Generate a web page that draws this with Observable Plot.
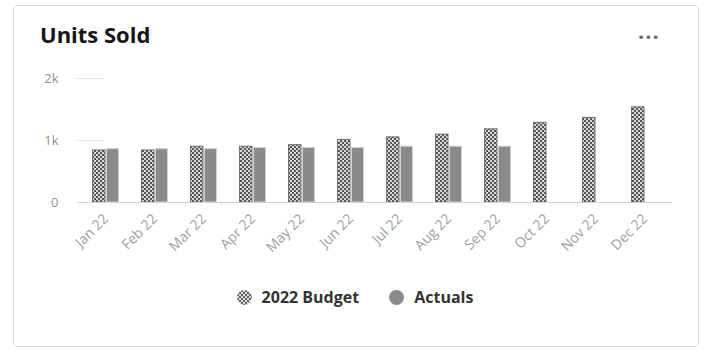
<!DOCTYPE html>
<html>
<head>
<meta charset="utf-8">
<script src="https://cdn.jsdelivr.net/npm/d3@7"></script>
<script src="https://cdn.jsdelivr.net/npm/@observablehq/plot@0.6"></script>
<style>
  html, body { margin: 0; padding: 0; background: #fff; width: 710px; height: 355px; overflow: hidden; font-family: "Open Sans", sans-serif; }
  #card { position: absolute; left: 13px; top: 5px; width: 684px; height: 340px; border: 1px solid #dcdcdc; border-radius: 4px; box-sizing: content-box; }
  #title { position: absolute; left: 40px; top: 19px; font-size: 22px; font-weight: 700; color: #161616; }
  #dots { position: absolute; left: 638px; top: 21px; font-size: 22px; font-weight: 700; color: #6a6a6a; letter-spacing: 1px; }
  #chart { position: absolute; left: 0; top: 60px; }
  #legend { position: absolute; left: 0; width: 710px; top: 286px; display: flex; justify-content: center; align-items: center; font-size: 16px; font-weight: 700; color: #333; }
  .item { display: flex; align-items: center; margin: 0 15px; }
</style>
</head>
<body>
<div id="card"></div>
<div id="title">Units Sold</div>
<div id="dots">···</div>
<div id="chart"></div>
<div id="legend"></div>
<script>
const months = ["Jan 22","Feb 22","Mar 22","Apr 22","May 22","Jun 22","Jul 22","Aug 22","Sep 22","Oct 22","Nov 22","Dec 22"];
const budget = [840, 840, 900, 900, 925, 1010, 1050, 1095, 1180, 1285, 1365, 1535];
const actuals = [860, 860, 860, 880, 880, 880, 900, 900, 900, null, null, null];
const yTicks = [0, 1000, 2000];
const seriesNames = ["2022 Budget", "Actuals"];

const budgetData = months.map((m, i) => ({month: m, value: budget[i]}));
const actualData = months.map((m, i) => ({month: m, value: actuals[i]})).filter(d => d.value != null);

const chart = Plot.plot({
  width: 710,
  height: 190,
  marginLeft: 77,
  marginRight: 38,
  marginTop: 18,
  marginBottom: 48,
  style: {fontFamily: "'Open Sans', sans-serif", fontSize: "13px", color: "#8f8f8f", background: "transparent", overflow: "visible"},
  x: {domain: months, padding: 0, label: null},
  y: {domain: [0, 2000], label: null},
  marks: [
    Plot.axisY({ticks: yTicks.filter(d => d > 0), tickSize: -27, tickFormat: () => "", stroke: "#e3e3e3"}),
    Plot.axisY({ticks: yTicks, tickSize: 0, tickPadding: 19, tickFormat: d => d === 0 ? "0" : (d / 1000) + "k", fill: "#8f8f8f"}),
    Plot.axisX({tickSize: 0, tickPadding: 14, tickRotate: -45, fill: "#a0a0a0", fontSize: 14}),
    Plot.barY(budgetData, {x: "month", y: "value", fill: "url(#checker)", stroke: "#707070", strokeWidth: 1, insetLeft: 11.5, insetRight: 25}),
    Plot.barY(actualData, {x: "month", y: "value", fill: "#8a8a8a", stroke: "#d0d0d0", strokeWidth: 1, insetLeft: 25.5, insetRight: 11.5}),
    Plot.ruleY([0], {stroke: "#c5d3f1", strokeWidth: 1})
  ]
});

const ns = "http://www.w3.org/2000/svg";
const defs = document.createElementNS(ns, "defs");
defs.innerHTML = `<pattern id="checker" width="4" height="4" patternUnits="userSpaceOnUse">
  <rect width="4" height="4" fill="#d8d8d8"/>
  <rect width="2" height="2" fill="#555"/>
  <rect x="2" y="2" width="2" height="2" fill="#555"/>
</pattern>`;
chart.insertBefore(defs, chart.firstChild);
document.getElementById("chart").appendChild(chart);

const legend = document.getElementById("legend");
seriesNames.forEach((name, i) => {
  const item = document.createElement("div");
  item.className = "item";
  const sw = document.createElementNS(ns, "svg");
  sw.setAttribute("width", 15); sw.setAttribute("height", 15);
  sw.style.marginRight = "10px";
  sw.innerHTML = i === 0
    ? `<defs><pattern id="checkerL" width="4" height="4" patternUnits="userSpaceOnUse"><rect width="4" height="4" fill="#d8d8d8"/><rect width="2" height="2" fill="#666"/><rect x="2" y="2" width="2" height="2" fill="#666"/></pattern></defs><circle cx="7.5" cy="7.5" r="7.5" fill="url(#checkerL)"/>`
    : `<circle cx="7.5" cy="7.5" r="7.5" fill="#8a8a8a"/>`;
  item.appendChild(sw);
  const t = document.createElement("span");
  t.textContent = name;
  item.appendChild(t);
  legend.appendChild(item);
});
</script>
</body>
</html>
